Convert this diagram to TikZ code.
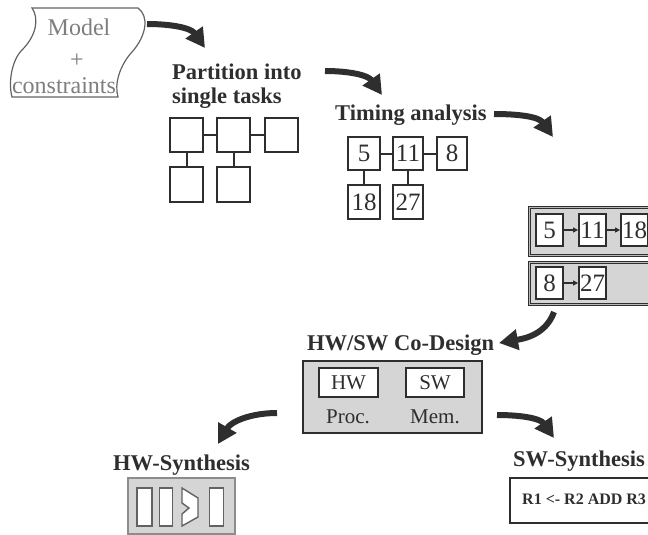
\documentclass[tikz,border=0pt]{standalone}
\usepackage{fontspec}
\setmainfont{Liberation Serif}
\usetikzlibrary{arrows.meta}

\definecolor{ink}{HTML}{2E2E2E}
\definecolor{soft}{HTML}{7E7E7E}
\definecolor{panel}{HTML}{D5D5D5}

\begin{document}
\begin{tikzpicture}[x=1pt,y=1pt,
  bigarrow/.style={ink, line width=6pt, -{Triangle[length=19pt,width=20pt]}},
  smallarrow/.style={ink, line width=1.2pt, -{Triangle[length=5pt,width=5pt]}},
  wire/.style={ink, line width=2pt},
  task/.style={draw=ink, line width=1.8pt, fill=white, inner sep=0pt},
  numbox/.style={draw=ink, line width=1.8pt, fill=white, inner sep=0pt, text=ink,
    font=\fontsize{25}{25}\selectfont},
  tag/.style={draw=ink, line width=1.5pt, fill=white, inner sep=0pt, text=ink,
    font=\fontsize{21}{21}\selectfont},
  label/.style={inner sep=0pt, text=ink, font=\fontsize{21}{21}\selectfont},
  heading/.style={inner sep=0pt, anchor=base west, text=ink,
    font=\bfseries\fontsize{22.5}{24}\selectfont},
  softtext/.style={inner sep=0pt, anchor=base, text=soft,
    font=\fontsize{24}{24}\selectfont},
  queue/.style={draw=ink, line width=1pt, double=gray!55, double distance=1pt,
    fill=panel, inner sep=0pt, anchor=north west},
  panelbox/.style={draw=ink, line width=2.2pt, fill=panel, inner sep=0pt},
  unitbox/.style={draw=ink!75, line width=1.4pt, fill=white, inner sep=0pt},
]
\useasboundingbox (0,0) rectangle (648,-535);
\clip (0,0) rectangle (648,-535);

% ---- input: model + constraints (banner with S-shaped sides) -------------
\draw[ink!75, line width=1.2pt]
  (32,-8) -- (138,-8)
  .. controls (149,-16) and (147,-35) .. (132,-52)
  .. controls (120,-65) and (114,-84) .. (118,-97)
  -- (12,-97)
  .. controls (8,-82) and (12,-60) .. (22,-50)
  .. controls (37,-35) and (39,-18) .. (32,-8) -- cycle;
\node[softtext] (model) at (79,-36) {Model};
\node[softtext] (plus) at (77,-68) {+};
\node[softtext] (cons) at (64,-93) {constraints};

% ---- partition into single tasks -------------------------------------
\node[heading] (parthead) at (172,-79) {Partition into};
\node[heading] (parthead2) at (172,-103) {single tasks};
\node[task, minimum width=33pt, minimum height=34pt] (p1) at (186.5,-135) {};
\node[task, minimum width=33pt, minimum height=34pt] (p2) at (233.5,-135) {};
\node[task, minimum width=33pt, minimum height=34pt] (p3) at (281.5,-135) {};
\node[task, minimum width=33pt, minimum height=35pt] (p4) at (186.5,-184.5) {};
\node[task, minimum width=33pt, minimum height=35pt] (p5) at (233.5,-184.5) {};
\draw[wire] (p1) -- (p2);
\draw[wire] (p2) -- (p3);
\draw[wire] (p1) -- (p4);
\draw[wire] (p2) -- (p5);

% ---- timing analysis ---------------------------------------------------
\node[heading] (timehead) at (335,-120) {Timing analysis};
\node[numbox, minimum width=32pt, minimum height=33pt] (t5) at (364,-153.5) {5};
\node[numbox, minimum width=30pt, minimum height=33pt] (t11) at (408,-153.5) {11};
\node[numbox, minimum width=30pt, minimum height=33pt] (t8) at (452,-153.5) {8};
\node[numbox, minimum width=32pt, minimum height=34pt] (t18) at (364,-202) {18};
\node[numbox, minimum width=30pt, minimum height=34pt] (t27) at (408,-202) {27};
\draw[wire] (t5) -- (t11);
\draw[wire] (t11) -- (t8);
\draw[wire] (t5) -- (t18);
\draw[wire] (t11) -- (t27);

% ---- ordered task chains -----------------------------------------------
\node[queue, minimum width=140pt, minimum height=48pt] (q1) at (529,-207) {};
\node[queue, minimum width=140pt, minimum height=42pt] (q2) at (529,-262) {};
\node[numbox, minimum width=27pt, minimum height=32pt] (c5) at (549.5,-230) {5};
\node[numbox, minimum width=27pt, minimum height=32pt] (c11) at (592.5,-230) {11};
\node[numbox, minimum width=27pt, minimum height=32pt] (c18) at (634.5,-230) {18};
\node[numbox, minimum width=27pt, minimum height=32pt] (c8) at (549.5,-283) {8};
\node[numbox, minimum width=27pt, minimum height=32pt] (c27) at (592.5,-283) {27};
\draw[smallarrow] (c5) -- (c11);
\draw[smallarrow] (c11) -- (c18);
\draw[smallarrow] (c8) -- (c27);

% ---- HW/SW co-design ---------------------------------------------------
\node[heading] (cdhead) at (307,-350) {HW/SW Co-Design};
\node[panelbox, minimum width=179pt, minimum height=72pt] (cd) at (392.5,-397) {};
\node[tag, minimum width=59pt, minimum height=29pt] (hw) at (348.5,-382.5) {HW};
\node[tag, minimum width=58pt, minimum height=29pt] (sw) at (435,-382.5) {SW};
\node[label] (proc) at (348,-417) {Proc.};
\node[label] (mem) at (435,-417) {Mem.};

% ---- HW synthesis ------------------------------------------------------
\node[heading] (hwhead) at (113,-470) {HW-Synthesis};
\node[draw=ink!55, line width=1.8pt, fill=panel, inner sep=0pt,
      minimum width=107pt, minimum height=56pt] (hwbox) at (181.5,-506) {};
\node[unitbox, minimum width=15pt, minimum height=38pt] (r1) at (144.5,-507) {};
\node[unitbox, minimum width=13pt, minimum height=38pt] (r2) at (166,-507) {};
\node[unitbox, minimum width=14pt, minimum height=38pt] (r4) at (216.5,-507) {};
\draw[ink!75, line width=1.4pt, fill=white]
  (182,-488) -- (198,-498) -- (198,-517) -- (182,-526) -- (182,-514)
  -- (189,-508) -- (182,-503) -- cycle;

% ---- SW synthesis ------------------------------------------------------
\node[heading] (swhead) at (513,-466) {SW-Synthesis};
\node[draw=ink, line width=2.2pt, fill=white, inner sep=0pt, anchor=north west,
      minimum width=150pt, minimum height=45pt] (swbox) at (509,-477) {};
\node[inner sep=0pt, anchor=west, text=ink, font=\bfseries\fontsize{16}{16}\selectfont]
  (code) at (522,-499) {R1 <- R2 ADD R3};

% ---- flow arrows ---------------------------------------------------------
\coordinate (a1s) at (147,-24);  \coordinate (a1e) at (205,-48);
\coordinate (a2s) at (325,-71);  \coordinate (a2e) at (382,-95);
\coordinate (a3s) at (494,-114); \coordinate (a3e) at (553,-137);
\coordinate (a4s) at (554,-312); \coordinate (a4e) at (499,-343);
\coordinate (a5s) at (277,-413); \coordinate (a5e) at (218,-444);
\coordinate (a6s) at (497,-415); \coordinate (a6e) at (554,-438);
\draw[bigarrow] (a1s) to[out=0, in=125] (a1e);
\draw[bigarrow] (a2s) to[out=0, in=125] (a2e);
\draw[bigarrow] (a3s) to[out=0, in=125] (a3e);
\draw[bigarrow] (a4s) to[out=-110, in=10] (a4e);
\draw[bigarrow] (a5s) to[out=180, in=60] (a5e);
\draw[bigarrow] (a6s) to[out=0, in=125] (a6e);
\end{tikzpicture}
\end{document}
